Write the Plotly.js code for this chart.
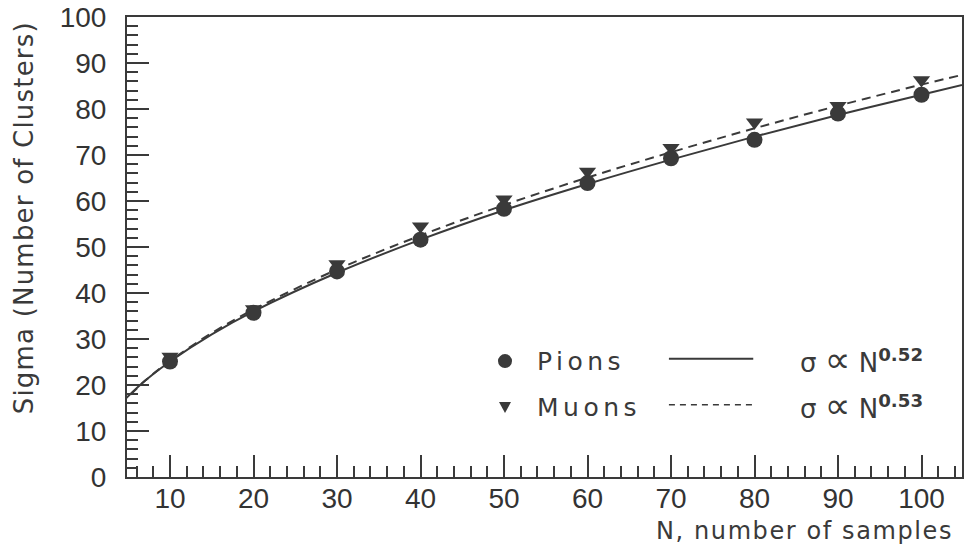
<!DOCTYPE html>
<html>
<head>
<meta charset="utf-8">
<script src="https://cdn.plot.ly/plotly-3.0.1.min.js"></script>
<style>
  html, body { margin: 0; padding: 0; background: #fff; }
  #chart { width: 967px; height: 555px; }
</style>
</head>
<body>
<div id="chart"></div>
<script>
// Number of samples N and the measured sigma for each particle type
const samples = [10, 20, 30, 40, 50, 60, 70, 80, 90, 100];
const pions   = [25.1, 35.7, 44.7, 51.6, 58.3, 63.9, 69.3, 73.3, 79.0, 83.1];
const muons   = [26.2, 36.5, 46.3, 54.5, 60.4, 66.4, 71.6, 77.1, 80.7, 86.3];

// Power-law fit curves (sigma ~ N^0.52 for pions, N^0.53 for muons)
const fitN    = [4, 7, 10, 15, 20, 30, 40, 50, 60, 70, 80, 90, 100, 106];
const pionFit = [15.8, 20.9, 25.1, 31.0, 36.0, 44.4, 51.6, 58.0, 63.7, 69.0, 74.0, 78.7, 83.1, 85.7];
const muonFit = [15.6, 20.9, 25.2, 31.3, 36.4, 45.1, 52.5, 59.1, 65.1, 70.6, 75.8, 80.7, 85.3, 87.9];

// Legend labels
const seriesNames = ['Pions', 'Muons'];
const fitExponents = ['0.52', '0.53'];

const ink = '#3a3a3a';
const textFont = 'DejaVu Sans, sans-serif';
const spaced = (s, px) => '<span style="letter-spacing:' + px + 'px">' + s + '</span>';

const traces = [
  { x: fitN, y: pionFit, type: 'scatter', mode: 'lines',
    line: { color: ink, width: 2, shape: 'spline' }, hoverinfo: 'skip' },
  { x: fitN, y: muonFit, type: 'scatter', mode: 'lines',
    line: { color: ink, width: 2, dash: '9px,6px', shape: 'spline' }, hoverinfo: 'skip' },
  { x: samples, y: muons, type: 'scatter', mode: 'markers', name: seriesNames[1],
    marker: { symbol: 'triangle-down', size: 15, color: ink } },
  { x: samples, y: pions, type: 'scatter', mode: 'markers', name: seriesNames[0],
    marker: { symbol: 'circle', size: 16, color: ink } }
];

const axisCommon = {
  showline: true, linewidth: 2, linecolor: ink, mirror: true,
  showgrid: false, zeroline: false,
  ticks: 'inside', ticklen: 22, tickwidth: 2, tickcolor: ink,
  tickfont: { family: 'Liberation Sans, Arial, sans-serif', size: 28, color: '#333' },
  minor: { ticks: 'inside', ticklen: 11, tickwidth: 2, tickcolor: ink, dtick: 2, tick0: 0, showgrid: false }
};

const rowY = [0.252, 0.152];
const annotations = [
  { text: spaced('N, number of samples', 1.6), xref: 'paper', yref: 'paper', x: 0.992, y: -0.117,
    xanchor: 'right', yanchor: 'middle', showarrow: false,
    font: { family: textFont, size: 24, color: ink } },
  { text: spaced('Sigma (Number of Clusters)', 1.2), xref: 'paper', yref: 'paper', x: -0.124, y: 0.995,
    xanchor: 'center', yanchor: 'top', textangle: -90, showarrow: false,
    font: { family: textFont, size: 26, color: ink } }
];
const shapes = [];
seriesNames.forEach((name, i) => {
  annotations.push({ text: spaced(name, 4.5), xref: 'paper', yref: 'paper', x: 0.4886, y: rowY[i],
    xanchor: 'left', yanchor: 'middle', showarrow: false,
    font: { family: textFont, size: 25, color: ink } });
  annotations.push({
    text: 'σ <span style="font-size:36px">∝</span> N<sup><b>' + fitExponents[i] + '</b></sup>',
    xref: 'paper', yref: 'paper', x: 0.803, y: rowY[i] + 0.004,
    xanchor: 'left', yanchor: 'middle', showarrow: false,
    font: { family: textFont, size: 26, color: ink } });
  shapes.push({ type: 'line', xref: 'paper', yref: 'paper', x0: 0.649, x1: 0.750,
    y0: rowY[i] + 0.005, y1: rowY[i] + 0.005,
    line: { color: ink, width: i === 0 ? 2 : 1.5, dash: i === 0 ? 'solid' : '6px,5px' } });
});
// legend glyphs
shapes.push({ type: 'circle', xref: 'paper', yref: 'paper', xsizemode: 'pixel', ysizemode: 'pixel',
  xanchor: 0.4527, yanchor: rowY[0], x0: -7, x1: 7, y0: -7, y1: 7,
  fillcolor: ink, line: { width: 0 } });
shapes.push({ type: 'path', xref: 'paper', yref: 'paper', xsizemode: 'pixel', ysizemode: 'pixel',
  xanchor: 0.4527, yanchor: rowY[1], path: 'M -6,5 L 6,5 L 0,-6 Z',
  fillcolor: ink, line: { width: 0 } });

const layout = {
  width: 967, height: 555,
  margin: { l: 127, r: 5, t: 17, b: 78 },
  paper_bgcolor: '#fff', plot_bgcolor: '#fff',
  showlegend: false,
  xaxis: Object.assign({}, axisCommon, { range: [4.85, 104.85], dtick: 10, tick0: 0, ticklabelstandoff: -5 }),
  yaxis: Object.assign({}, axisCommon, { range: [0, 100], dtick: 10, tick0: 0, ticklabelstandoff: 13 }),
  annotations: annotations,
  shapes: shapes
};

Plotly.newPlot('chart', traces, layout, { staticPlot: true });
</script>
</body>
</html>
